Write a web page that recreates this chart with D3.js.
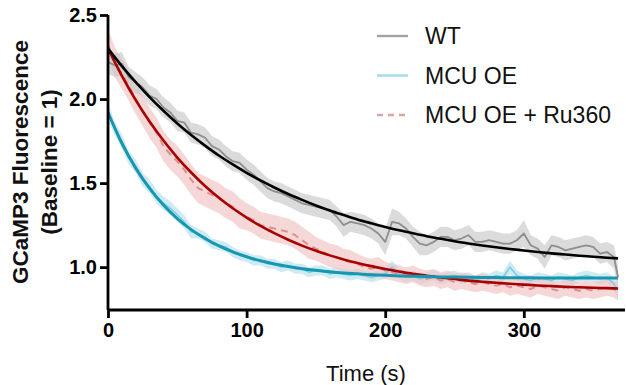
<!DOCTYPE html>
<html>
<head>
<meta charset="utf-8">
<script src="https://cdn.jsdelivr.net/npm/d3@7"></script>
<style>
  html, body { margin: 0; padding: 0; background: #fff; }
  svg { display: block; }
  text { font-family: "Liberation Sans", Arial, Helvetica, sans-serif; }
</style>
</head>
<body>
<svg id="chart" width="626" height="385"></svg>
<script>
// ---------- data ----------
const time = [0,5,10,15,20,25,30,35,40,45,50,55,60,65,70,75,80,85,90,95,
  100,105,110,115,120,125,130,135,140,145,150,155,160,165,170,175,180,185,190,195,
  200,205,210,215,220,225,230,235,240,245,250,255,260,265,270,275,280,285,290,295,
  300,305,310,315,320,325,330,335,340,345,350,355,360,365,368];

const wtMean = [2.22,2.20,2.21,2.13,2.10,2.07,2.02,2.00,1.95,1.92,
  1.87,1.86,1.80,1.79,1.77,1.72,1.70,1.66,1.63,1.62,
  1.58,1.55,1.51,1.47,1.45,1.44,1.42,1.40,1.38,1.37,
  1.36,1.35,1.34,1.30,1.25,1.27,1.26,1.25,1.23,1.20,
  1.15,1.27,1.26,1.23,1.18,1.14,1.13,1.15,1.18,1.18,
  1.16,1.17,1.19,1.15,1.15,1.16,1.15,1.14,1.14,1.16,
  1.20,1.13,1.11,1.06,1.13,1.12,1.10,1.11,1.12,1.13,
  1.12,1.08,1.09,1.06,0.94];
const wtSem = [0.07,0.07,0.07,0.06,0.06,0.06,0.06,0.06,0.06,0.06,
  0.06,0.06,0.06,0.06,0.06,0.06,0.06,0.06,0.06,0.06,
  0.06,0.06,0.06,0.06,0.06,0.06,0.06,0.06,0.06,0.06,
  0.06,0.06,0.06,0.06,0.07,0.06,0.06,0.06,0.06,0.06,
  0.08,0.08,0.07,0.06,0.06,0.07,0.06,0.06,0.06,0.06,
  0.06,0.06,0.06,0.06,0.06,0.06,0.06,0.06,0.06,0.06,
  0.08,0.06,0.06,0.07,0.06,0.06,0.06,0.06,0.06,0.06,
  0.06,0.06,0.06,0.07,0.07];

const oeMean = [1.93,1.82,1.75,1.65,1.60,1.52,1.48,1.42,1.38,1.35,
  1.31,1.27,1.21,1.20,1.18,1.14,1.13,1.12,1.09,1.07,
  1.06,1.04,1.04,1.02,1.02,1.00,1.01,0.99,0.99,0.97,
  0.98,0.98,0.96,0.97,0.96,0.95,0.96,0.95,0.94,0.95,
  0.96,1.00,0.96,0.94,0.95,0.93,0.94,0.95,0.93,0.94,
  0.95,0.93,0.94,0.92,0.94,0.93,0.95,0.94,1.00,0.95,
  0.93,0.92,0.94,0.93,0.92,0.94,0.93,0.92,0.94,0.95,
  0.94,0.93,0.94,0.90,0.86];
const oeSem = [0.05,0.04,0.04,0.04,0.04,0.04,0.04,0.04,0.04,0.04,
  0.04,0.04,0.04,0.03,0.03,0.03,0.03,0.03,0.03,0.03,
  0.03,0.03,0.03,0.03,0.03,0.03,0.03,0.03,0.03,0.03,
  0.03,0.03,0.03,0.03,0.03,0.03,0.03,0.03,0.03,0.03,
  0.03,0.04,0.03,0.03,0.03,0.03,0.03,0.03,0.03,0.03,
  0.03,0.03,0.03,0.03,0.03,0.03,0.03,0.03,0.04,0.03,
  0.03,0.03,0.03,0.03,0.03,0.03,0.03,0.03,0.03,0.03,
  0.03,0.03,0.03,0.04,0.05];

const ruMean = [2.32,2.22,2.15,2.08,2.00,1.93,1.86,1.80,1.72,1.67,
  1.63,1.58,1.52,1.47,1.45,1.43,1.41,1.38,1.36,1.32,
  1.30,1.28,1.25,1.24,1.23,1.22,1.21,1.19,1.16,1.13,
  1.11,1.09,1.07,1.06,1.04,1.03,1.02,1.00,0.99,1.00,
  0.98,0.97,0.96,0.95,0.96,0.94,0.93,0.94,0.92,0.93,
  0.91,0.92,0.91,0.90,0.91,0.90,0.89,0.90,0.88,0.89,
  0.88,0.87,0.89,0.88,0.87,0.86,0.88,0.87,0.86,0.87,
  0.86,0.87,0.88,0.87,0.85];
const ruSem = [0.09,0.09,0.09,0.09,0.09,0.09,0.09,0.09,0.09,0.09,
  0.09,0.09,0.09,0.09,0.09,0.09,0.09,0.09,0.09,0.09,
  0.08,0.08,0.08,0.08,0.08,0.08,0.08,0.08,0.08,0.08,
  0.07,0.07,0.07,0.07,0.07,0.07,0.06,0.06,0.06,0.06,
  0.05,0.05,0.05,0.05,0.05,0.05,0.05,0.05,0.05,0.05,
  0.05,0.05,0.05,0.05,0.05,0.05,0.05,0.05,0.05,0.05,
  0.05,0.05,0.05,0.05,0.05,0.05,0.05,0.05,0.05,0.05,
  0.05,0.05,0.05,0.05,0.05];

const fitTime = [0,10,20,30,40,50,60,70,80,90,100,110,120,130,140,150,160,170,180,190,
  200,210,220,230,240,250,260,270,280,290,300,310,320,330,340,350,360,368];
const wtFit = [2.300,2.196,2.100,2.011,1.930,1.855,1.786,1.723,1.664,1.611,1.561,1.516,1.474,1.435,1.400,1.367,1.337,1.310,1.284,1.261,
  1.239,1.219,1.201,1.184,1.169,1.154,1.141,1.129,1.118,1.108,1.099,1.090,1.082,1.075,1.068,1.062,1.056,1.052];
const oeFit = [1.920,1.737,1.589,1.468,1.369,1.288,1.223,1.170,1.126,1.091,1.062,1.038,1.019,1.004,0.991,0.981,0.972,0.965,0.960,0.955,
  0.951,0.948,0.946,0.944,0.942,0.941,0.940,0.939,0.938,0.937,0.937,0.936,0.936,0.936,0.935,0.935,0.935,0.935];
const ruFit = [2.300,2.138,1.994,1.866,1.753,1.652,1.563,1.483,1.413,1.350,1.295,1.245,1.202,1.163,1.128,1.097,1.070,1.046,1.025,1.006,
  0.989,0.974,0.960,0.949,0.938,0.929,0.920,0.913,0.907,0.901,0.896,0.891,0.887,0.883,0.880,0.877,0.875,0.873];

const yTicks = [1.0, 1.5, 2.0, 2.5];
const xTicks = [0, 100, 200, 300];
const legendLabels = ["WT", "MCU OE", "MCU OE + Ru360"];

// ---------- layout ----------
const svg = d3.select("#chart");
const x = d3.scaleLinear().domain([0, 373]).range([108, 625]);
const y = d3.scaleLinear().domain([0.745, 2.5]).range([310, 15]);

svg.append("defs").append("clipPath").attr("id", "plotclip")
  .append("rect").attr("x", 109).attr("y", 0).attr("width", 517).attr("height", 309);

const plot = svg.append("g").attr("clip-path", "url(#plotclip)");

function rows(mean, sem) { return time.map((t, i) => ({t, m: mean[i], s: sem[i]})); }
const area = d3.area().x(d => x(d.t)).y0(d => y(d.m - d.s)).y1(d => y(d.m + d.s)).curve(d3.curveLinear);
const line = d3.line().x(d => x(d.t)).y(d => y(d.m));
const fitLine = d3.line().x(d => x(d.t)).y(d => y(d.v)).curve(d3.curveMonotoneX);

const series = [
  {mean: oeMean, sem: oeSem, band: "#b3e1ec", raw: "#7fcde0", dash: null, rawW: 1.6},
  {mean: ruMean, sem: ruSem, band: "#f1c2c2", raw: "#dc8f8f", dash: "7,5", rawW: 2},
  {mean: wtMean, sem: wtSem, band: "#c8c8c8", raw: "#8e8e8e", dash: null, rawW: 1.8}
];
series.forEach(s => {
  plot.append("path").datum(rows(s.mean, s.sem)).attr("d", area)
    .attr("fill", s.band).attr("fill-opacity", 0.65);
});
series.forEach(s => {
  plot.append("path").datum(rows(s.mean, s.sem)).attr("d", line)
    .attr("fill", "none").attr("stroke", s.raw).attr("stroke-width", s.rawW)
    .attr("stroke-dasharray", s.dash).attr("stroke-linejoin", "round");
});

const fits = [
  {vals: ruFit, color: "#a80000", w: 2.6},
  {vals: oeFit, color: "#1796b0", w: 3},
  {vals: wtFit, color: "#000000", w: 2.6}
];
fits.forEach(f => {
  plot.append("path").datum(fitTime.map((t, i) => ({t, v: f.vals[i]}))).attr("d", fitLine)
    .attr("fill", "none").attr("stroke", f.color).attr("stroke-width", f.w);
});

// ---------- axes ----------
const xAxis = svg.append("g").attr("transform", "translate(0,310)")
  .call(d3.axisBottom(x).tickValues(xTicks).tickSize(8).tickPadding(5).tickFormat(d3.format("d")));
const yAxis = svg.append("g").attr("transform", "translate(108,0)")
  .call(d3.axisLeft(y).tickValues(yTicks).tickSize(8).tickPadding(3).tickFormat(d3.format(".1f")));
[xAxis, yAxis].forEach(a => {
  a.select(".domain").attr("stroke", "#000").attr("stroke-width", 2.8);
  a.selectAll(".tick line").attr("stroke", "#000").attr("stroke-width", 2.8);
  a.selectAll(".tick text").attr("fill", "#000").attr("font-size", 20).attr("font-weight", "bold")
    .style("font-family", "'Liberation Sans', Arial, sans-serif");
});
xAxis.select(".domain").attr("d", "M108,0H625");
yAxis.select(".domain").attr("d", "M0,15V310");

svg.append("text").attr("x", 366).attr("y", 381).attr("text-anchor", "middle")
  .attr("font-size", 22).attr("fill", "#111").text("Time (s)");

const yt = svg.append("text").attr("transform", "translate(28,162) rotate(-90)")
  .attr("text-anchor", "middle").attr("font-size", 22.5).attr("font-weight", "bold").attr("fill", "#111");
yt.append("tspan").attr("x", 0).attr("dy", 0).text("GCaMP3 Fluorescence");
yt.append("tspan").attr("x", 0).attr("dy", 28.5).text("(Baseline = 1)");

// ---------- legend ----------
const legendStyle = [
  {color: "#a3a3a3", dash: null},
  {color: "#a3dbe8", dash: null},
  {color: "#e0a3a3", dash: "6,5"}
];
const lg = svg.append("g");
legendLabels.forEach((lab, i) => {
  const cy = 36 + i * 39.5;
  lg.append("line").attr("x1", 377).attr("x2", 408).attr("y1", cy).attr("y2", cy)
    .attr("stroke", legendStyle[i].color).attr("stroke-width", 2.4)
    .attr("stroke-dasharray", legendStyle[i].dash);
  lg.append("text").attr("x", 425).attr("y", cy).attr("dy", "0.36em")
    .attr("font-size", 23).attr("fill", "#111").text(lab);
});
</script>
</body>
</html>
